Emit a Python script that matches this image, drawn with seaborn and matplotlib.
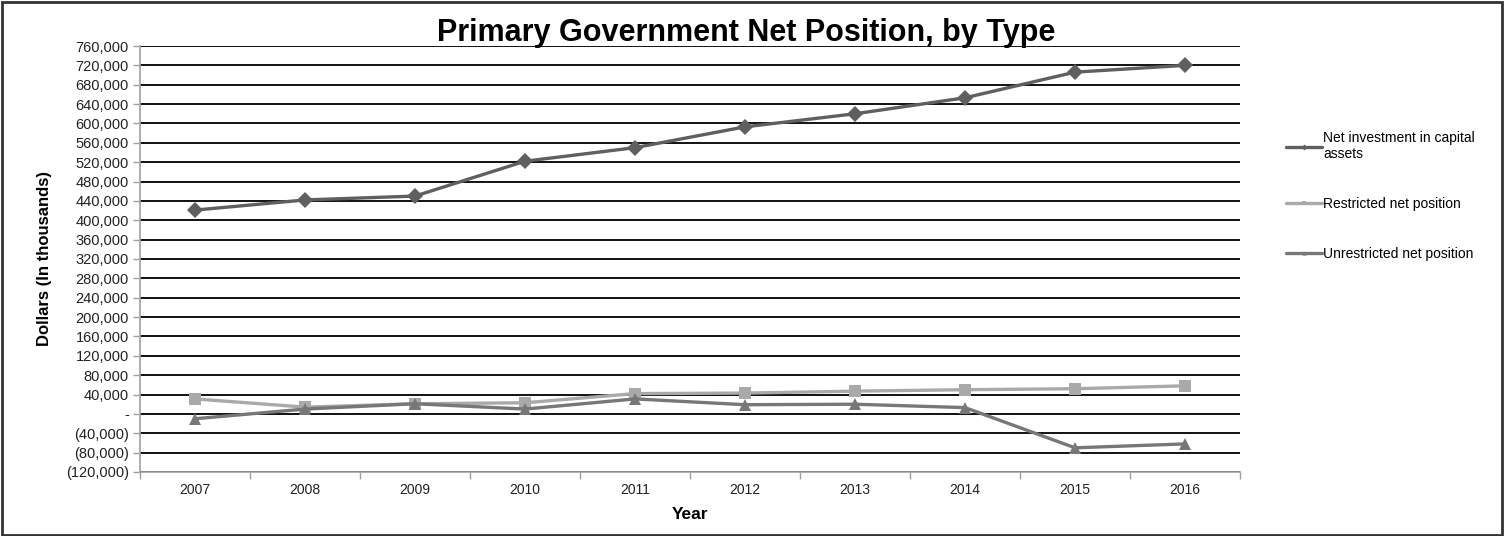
import matplotlib
matplotlib.use("Agg")
import matplotlib.pyplot as plt
from matplotlib.ticker import FuncFormatter, FixedLocator
from matplotlib.patches import Rectangle
import seaborn as sns
import pandas as pd
import numpy as np

years = [2007, 2008, 2009, 2010, 2011, 2012, 2013, 2014, 2015, 2016]
net_investment = [421000, 442000, 450000, 522000, 550000, 593000, 620000, 653000, 706000, 720000]
restricted = [31000, 14000, 21000, 23000, 42000, 43000, 47000, 50000, 52000, 58000]
unrestricted = [-10000, 10000, 21000, 10000, 31000, 19000, 20000, 13000, -70000, -62000]

series_names = ["Net investment in capital\nassets", "Restricted net position", "Unrestricted net position"]
series_values = [net_investment, restricted, unrestricted]

df = pd.concat(
    [pd.DataFrame({"Year": years, "Value": vals, "Series": name})
     for name, vals in zip(series_names, series_values)],
    ignore_index=True,
)

sns.set_theme(style="white")
plt.rcParams["font.family"] = ["Liberation Sans", "DejaVu Sans"]
plt.rcParams["text.color"] = "black"
plt.rcParams["axes.labelcolor"] = "black"
plt.rcParams["xtick.color"] = "black"
plt.rcParams["ytick.color"] = "black"

palette = {series_names[0]: "#5f5f5f", series_names[1]: "#a9a9a9", series_names[2]: "#777777"}
markers = {series_names[0]: "D", series_names[1]: "s", series_names[2]: "^"}

fig = plt.figure(figsize=(15.05, 5.36), dpi=100)
ax = fig.add_axes([140 / 1505, 1 - 472 / 536, 1100 / 1505, 426 / 536])

sns.lineplot(data=df, x="Year", y="Value", hue="Series", style="Series",
             palette=palette, markers=markers, dashes=False, linewidth=2.4,
             markersize=8, markeredgewidth=0, ax=ax, legend=True, sort=False)

ax.set_xlim(2006.5, 2016.5)
ax.set_ylim(-120000, 760000)
ax.set_yticks(np.arange(-120000, 760001, 40000))


def fmt(v, _):
    v = int(round(v))
    if v == 0:
        return "-"
    if v < 0:
        return "({:,})".format(-v)
    return "{:,}".format(v)


ax.yaxis.set_major_formatter(FuncFormatter(fmt))
ax.set_xticks(years)
ax.set_xticklabels([str(y) for y in years])
ax.xaxis.set_minor_locator(FixedLocator(np.arange(2006.5, 2017, 1.0)))

ax.grid(axis="y", color="#111111", linewidth=1.4)
ax.grid(axis="x", visible=False)
ax.set_axisbelow(True)

for side in ["top", "right"]:
    ax.spines[side].set_visible(False)
for side in ["left", "bottom"]:
    ax.spines[side].set_color("#a0a0a0")
    ax.spines[side].set_linewidth(1.2)

ax.tick_params(axis="y", which="major", direction="out", length=5, width=1,
               color="#a0a0a0", labelsize=10.5, pad=3, left=True, labelcolor="#222222")
ax.tick_params(axis="x", which="major", length=0, labelsize=10, pad=8, labelcolor="#222222")
ax.tick_params(axis="x", which="minor", direction="out", length=5, width=1,
               color="#a0a0a0", bottom=True)

ax.set_xlabel("Year", fontsize=12.5, fontweight="bold", labelpad=7)
ax.set_ylabel("Dollars (In thousands)", fontsize=12, fontweight="bold", labelpad=10)

handles, labels = ax.get_legend_handles_labels()
for h in handles:
    h.set_markersize(3)
    h.set_linewidth(2.4)
ax.legend(handles, labels, loc="upper left", bbox_to_anchor=(1.03, 0.83),
          frameon=False, fontsize=10, handlelength=2.6, handletextpad=0.1,
          labelspacing=2.6)

fig.text(0.496, 0.938, "Primary Government Net Position, by Type",
         ha="center", va="center", fontsize=22, fontweight="bold", color="black")

fig.patches.append(Rectangle((0.001, 0.002), 0.997, 0.995, transform=fig.transFigure,
                             fill=False, edgecolor="#333333", linewidth=2))

fig.savefig("out.png", dpi=100)
